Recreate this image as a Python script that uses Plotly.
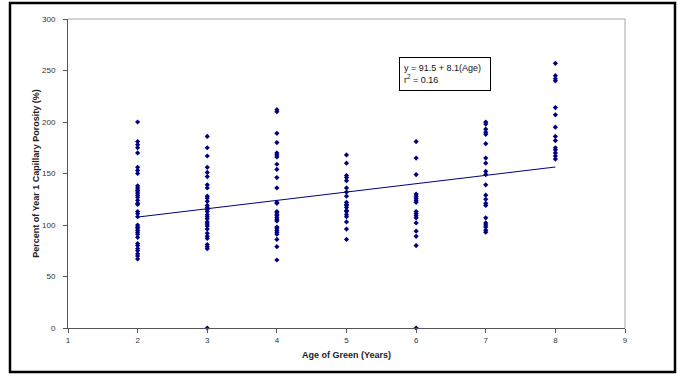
import plotly.graph_objects as go

# Data
age2 = [200, 181, 178, 175, 170, 156, 153, 150, 138, 136, 134, 133, 131, 129, 127, 124, 121, 120, 113, 111, 108,
        100, 98, 97, 95, 93, 91, 88, 82, 80, 77, 75, 72, 70, 67]
age3 = [186, 175, 167, 156, 151, 147, 139, 136, 128, 126, 123, 119, 117, 115, 113, 110, 108, 106, 103, 101,
        99, 96, 92, 89, 87, 81, 79, 77, 0]
age4 = [212, 210, 189, 180, 170, 168, 166, 159, 154, 146, 136, 122, 121, 113, 112, 110, 109, 107, 105, 104,
        98, 97, 95, 93, 91, 86, 79, 66]
age5 = [168, 160, 148, 146, 143, 136, 132, 128, 122, 120, 119, 117, 114, 113, 110, 108, 103, 96, 86]
age6 = [181, 165, 149, 130, 128, 126, 124, 122, 113, 111, 109, 107, 102, 94, 89, 80, 0]
age7 = [200, 198, 193, 190, 188, 179, 165, 160, 152, 149, 139, 129, 125, 121, 119, 107, 102, 100, 98, 95, 93]
age8 = [257, 245, 242, 240, 214, 207, 195, 186, 182, 175, 173, 170, 167, 164]

groups = {2: age2, 3: age3, 4: age4, 5: age5, 6: age6, 7: age7, 8: age8}
intercept = 91.5
slope = 8.1
fit_x = [2, 8]
x_ticks = [1, 2, 3, 4, 5, 6, 7, 8, 9]
y_ticks = [0, 50, 100, 150, 200, 250, 300]

xs, ys = [], []
for a, vals in groups.items():
    xs += [a] * len(vals)
    ys += vals

navy = "#000080"
font = "Liberation Sans, Arial, sans-serif"

fig = go.Figure()
fig.add_trace(go.Scatter(x=xs, y=ys, mode="markers",
                         marker=dict(symbol="diamond", size=4, color=navy, line=dict(width=0)),
                         showlegend=False, cliponaxis=False))
fig.add_trace(go.Scatter(x=fit_x, y=[intercept + slope * v for v in fit_x], mode="lines",
                         line=dict(color=navy, width=1), showlegend=False))

L, R, T, B = 68, 58, 19, 48
W, H = 683, 376
pw, ph = W - L - R, H - T - B

def px(xp):
    return (xp - L) / pw

def py(yp):
    return (H - B - yp) / ph

fig.update_layout(
    width=W, height=H,
    margin=dict(l=L, r=R, t=T, b=B, pad=0),
    paper_bgcolor="white", plot_bgcolor="white",
    font=dict(family=font, size=8, color="#333333"),
    xaxis=dict(range=[1, 9], tickvals=x_ticks, ticks="outside", ticklen=4, tickcolor="#555555",
               showline=True, linecolor="#555555", linewidth=1, showgrid=False, zeroline=False,
               tickfont=dict(size=8, color="#333333"),
               title=dict(text="<b>Age of Green (Years)</b>", font=dict(size=9, color="#222222"), standoff=8)),
    yaxis=dict(range=[0, 300], tickvals=y_ticks, ticks="outside", ticklen=4, tickcolor="#555555",
               showline=True, linecolor="#555555", linewidth=1, showgrid=False, zeroline=False,
               tickfont=dict(size=8, color="#333333"), ticklabelstandoff=6,
               title=dict(text="<b>Percent of Year 1 Capillary Porosity (%)</b>",
                          font=dict(size=9, color="#222222"), standoff=0)),
    shapes=[
        dict(type="line", xref="paper", yref="paper", x0=0, x1=1, y0=1, y1=1,
             line=dict(color="#a8a8a8", width=1)),
        dict(type="line", xref="paper", yref="paper", x0=1, x1=1, y0=0, y1=1,
             line=dict(color="#a8a8a8", width=1)),
        dict(type="rect", xref="paper", yref="paper", x0=px(10), x1=px(675), y0=py(372), y1=py(3),
             line=dict(color="black", width=2.5)),
    ],
    annotations=[
        dict(xref="paper", yref="paper", x=px(399), y=py(57), xanchor="left", yanchor="top",
             text="y = 91.5 + 8.1(Age)<br>r<sup>2</sup> = 0.16", showarrow=False, align="left",
             font=dict(size=9, color="#111111"), bordercolor="black", borderwidth=1, borderpad=4,
             bgcolor="white", width=82, height=24),
    ],
)

fig.write_html("out.html")
